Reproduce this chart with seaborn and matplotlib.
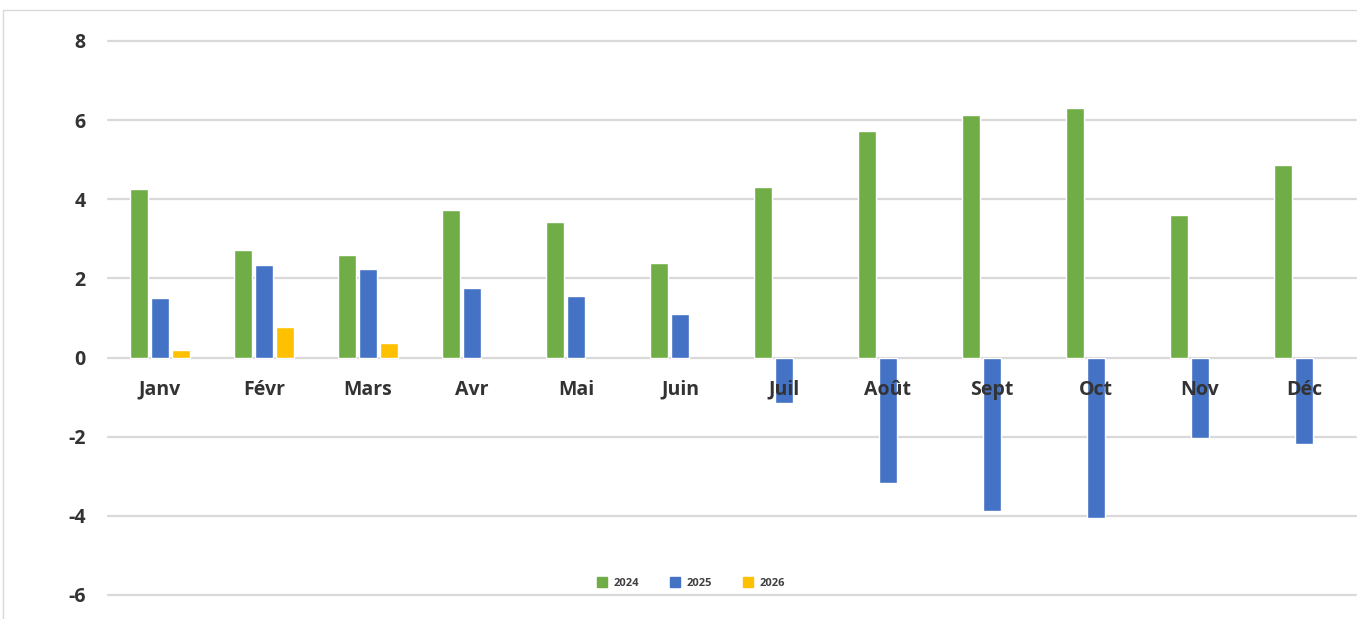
import numpy as np
import pandas as pd
import matplotlib.pyplot as plt
import seaborn as sns
from matplotlib.lines import Line2D

mois = ['Janv', 'Févr', 'Mars', 'Avr', 'Mai', 'Juin',
        'Juil', 'Août', 'Sept', 'Oct', 'Nov', 'Déc']
v2024 = [4.25, 2.73, 2.58, 3.72, 3.42, 2.38, 4.30, 5.72, 6.13, 6.30, 3.60, 4.86]
v2025 = [1.50, 2.33, 2.25, 1.75, 1.55, 1.10, -1.16, -3.18, -3.87, -4.05, -2.02, -2.18]
v2026 = [0.20, 0.76, 0.38, np.nan, np.nan, np.nan,
         np.nan, np.nan, np.nan, np.nan, np.nan, np.nan]
annees = ['2024', '2025', '2026']
couleurs = ['#70AD47', '#4472C4', '#FFC000']

df = pd.DataFrame({'mois': mois * 3,
                   'annee': np.repeat(annees, len(mois)),
                   'valeur': v2024 + v2025 + v2026})

sns.set_style('white')
plt.rcParams['font.family'] = ['Open Sans', 'DejaVu Sans']
plt.rcParams['axes.unicode_minus'] = False

fig = plt.figure(figsize=(13.57, 6.19), dpi=100)
ax = fig.add_axes([108/1357, 1 - 595/619, 1248/1357, 554/619])

sns.barplot(data=df, x='mois', y='valeur', hue='annee', order=mois,
            hue_order=annees, palette=couleurs, width=0.6, gap=0.15,
            saturation=1, ax=ax, legend=False)

ax.set_ylim(-6, 8)
ax.set_xlim(-0.5, 11.5)
ax.set_yticks(range(-6, 9, 2))
ax.yaxis.grid(True, color='#D9D9D9', lw=1.6)
ax.set_axisbelow(True)
for g in ax.get_ygridlines():
    g.set_clip_on(False)
# noms des mois par-dessus les barres
ax.xaxis.set_zorder(5)

for s in ['top', 'right', 'left']:
    ax.spines[s].set_visible(False)
ax.spines['bottom'].set_position(('data', 0))
ax.spines['bottom'].set_visible(False)

ax.tick_params(axis='x', length=0, pad=16, labelsize=14, labelcolor='#333333')
ax.tick_params(axis='y', length=0, pad=16, labelsize=14, labelcolor='#333333')
for lbl in ax.get_xticklabels() + ax.get_yticklabels():
    lbl.set_fontweight('bold')

ax.set_xlabel('')
ax.set_ylabel('')

handles = [Line2D([], [], marker='s', ls='', color=c, markersize=7) for c in couleurs]
fig.legend(handles, annees, loc='center', bbox_to_anchor=(688/1357, 1 - 583/619),
           ncol=3, frameon=False, handletextpad=0.05, columnspacing=2.2,
           prop={'size': 8, 'weight': 'bold'}, labelcolor='#404040')

# cadre du graphique
fig.add_artist(Line2D([3/1357, 1], [1 - 10/619, 1 - 10/619], color='#D9D9D9', lw=1))
fig.add_artist(Line2D([3/1357, 3/1357], [0, 1 - 10/619], color='#D9D9D9', lw=1))

plt.savefig('out.png', dpi=100)
